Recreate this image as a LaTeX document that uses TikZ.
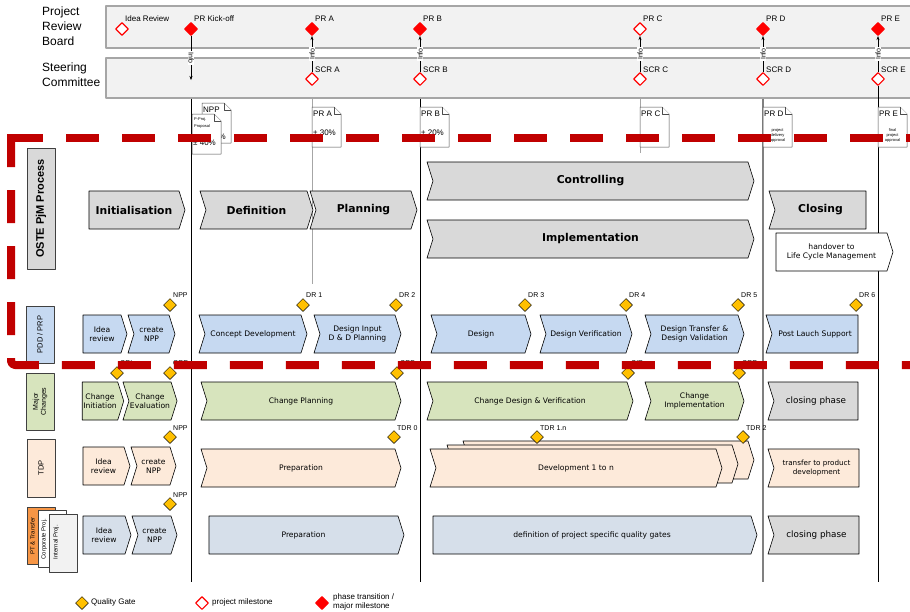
\documentclass[tikz,border=0pt]{standalone}
\usepackage{fontspec}
\setmainfont{Liberation Sans}
\newfontfamily\dvsans{DejaVu Sans}
\usetikzlibrary{shapes.geometric,shapes.symbols,arrows.meta}

\definecolor{boardgray}{HTML}{F2F2F2}
\definecolor{boardline}{HTML}{A6A6A6}
\definecolor{msred}{HTML}{FF0000}
\definecolor{dashred}{HTML}{C00000}
\definecolor{gatey}{HTML}{FFC000}
\definecolor{phasegray}{HTML}{D9D9D9}
\definecolor{pddblue}{HTML}{C6D9F1}
\definecolor{chgreen}{HTML}{D7E4BD}
\definecolor{tdppeach}{HTML}{FDEADA}
\definecolor{ptblue}{HTML}{D6DFEA}
\definecolor{ptorange}{HTML}{F79646}

\tikzset{
  lane/.style={draw=boardline, line width=1.5pt, fill=boardgray, inner sep=0pt},
  ms/.style={diamond, draw=msred, line width=1.1pt, fill=white, minimum size=13pt, inner sep=0pt},
  msfull/.style={ms, fill=msred},
  mslab/.style={anchor=west, inner sep=0pt, font=\fontsize{8}{9}\selectfont},
  gate/.style={diamond, draw=black, line width=0.5pt, fill=gatey, minimum size=13pt, inner sep=0pt},
  gatelab/.style={anchor=west, inner sep=0pt, font=\fontsize{7}{8}\selectfont},
  infolab/.style={fill=white, inner sep=0.8pt, font=\fontsize{7}{7}\selectfont},
  doc/.style={draw=black!70, line width=0.5pt, fill=white},
  doclab/.style={anchor=west, inner sep=0pt, font=\fontsize{8}{9}\selectfont},
  doctiny/.style={inner sep=0pt, align=center, font=\fontsize{4}{5}\selectfont},
  phase/.style={signal, signal to=east, signal from=west, signal pointer angle=145,
    draw=black, line width=0.6pt, minimum height=38pt, inner sep=1pt, align=center,
    font=\dvsans\fontsize{7.6}{9.2}\selectfont},
  flatl/.style={signal from=nowhere},
  flatr/.style={signal to=nowhere},
  bigph/.style={phase, fill=phasegray, font=\dvsans\bfseries\fontsize{10.8}{12}\selectfont},
  endph/.style={phase, flatr, fill=phasegray, font=\dvsans\fontsize{8.8}{10}\selectfont},
  pdd/.style={phase, fill=pddblue},
  chg/.style={phase, fill=chgreen},
  tdp/.style={phase, fill=tdppeach},
  ptr/.style={phase, fill=ptblue},
  rowlab/.style={draw=black!75, line width=0.7pt, rotate=90, inner sep=1pt, align=center,
    minimum height=28pt, font=\fontsize{7.5}{8.5}\selectfont},
  rowtxt/.style={rotate=90, inner sep=0pt, font=\fontsize{6}{7}\selectfont},
  tline/.style={line width=0.7pt},
  gline/.style={draw=black!35, line width=0.6pt},
  dline/.style={draw=black!50, line width=1.4pt},
  reddash/.style={draw=dashred, line width=8pt, dash pattern=on 33pt off 23pt, rounded corners=4pt},
}

% page with folded corner, top left at (#1,#2)
\newcommand\pagedoc[2]{
  \draw[doc] (#1,#2) -- ++(22,0) -- ++(7,7) -- ++(0,33) -- ++(-29,0) -- cycle;
  \draw[doc] (#1+22,#2) -- ++(0,7) -- ++(7,0);
}

\begin{document}
\begin{tikzpicture}[x=1pt, y=-1pt, line join=round, >=Stealth]
  \useasboundingbox (0,0) rectangle (910,611);

  % board and committee
  \node[anchor=north west, align=left, inner sep=0pt, font=\fontsize{12}{15}\selectfont] (prbtitle) at (42,7) {Project\\Review\\Board};
  \node[anchor=north west, align=left, inner sep=0pt, font=\fontsize{12}{15}\selectfont] (sctitle) at (42,63) {Steering\\Committee};
  \node[lane, anchor=north west, minimum width=810pt, minimum height=42pt] (prbox) at (105,5) {};
  \node[lane, anchor=north west, minimum width=810pt, minimum height=40pt] (scbox) at (105,57) {};

  \foreach \x/\n/\s/\t in {122/idea/ms/Idea Review, 191/ko/msfull/PR Kick-off, 312/a/msfull/PR A,
      420/b/msfull/PR B, 640/c/ms/PR C, 763/d/msfull/PR D, 878/e/msfull/PR E}{
    \node[\s] (pr\n) at (\x,29) {};
    \node[mslab] (prlab\n) at (\x+3,19) {\t};
  }
  \foreach \x/\n/\t in {312/a/A, 420/b/B, 640/c/C, 763/d/D, 878/e/E}{
    \node[ms] (scr\n) at (\x,79) {};
    \node[mslab] (scrlab\n) at (\x+3,70) {SCR \t};
  }

  % info arrows
  \coordinate (infoend) at (191,80);
  \draw[-{Stealth[length=4pt,width=3pt]}] (prko) -- (infoend) node[infolab, rotate=-90, pos=0.5] (infoko) {Info};
  \foreach \n in {a,b,c,d,e}
    \draw[-{Stealth[length=4pt,width=3pt]}] (scr\n) -- (pr\n) node[infolab, rotate=90, midway] (info\n) {Info};

  % phase lines
  \coordinate (bottom) at (0,582);
  \coordinate (aend) at (312,284);
  \coordinate (cend) at (640,153);
  \draw[tline] (prko |- scbox.south) -- (prko |- bottom);
  \draw[gline] (pra |- scbox.south) -- (aend);
  \draw[tline] (prb |- scbox.south) -- (prb |- bottom);
  \draw[gline] (prc |- scbox.south) -- (cend);
  \draw[dline] (prd |- scbox.south) -- (prd |- bottom);
  \draw[tline] (scre) -- (pre |- bottom);

  % review documents
  \pagedoc{202}{103}
  \node[doclab] (nppdoc) at (203,110) {NPP};
  \node[doclab] (nppval) at (203,137) {± 40\%};
  \pagedoc{192}{114}
  \node[doctiny, anchor=west] (pproj) at (194,119) {P-Proj.};
  \node[doctiny, anchor=west] (pprop) at (194,126) {Proposal};
  \node[doclab] (pprojval) at (193,143) {± 40\%};
  \pagedoc{312}{107}
  \node[doclab] (pradoc) at (313,114) {PR A};
  \node[doclab] (praval) at (313,133) {± 30\%};
  \pagedoc{420}{107}
  \node[doclab] (prbdoc) at (421,114) {PR B};
  \node[doclab] (prbval) at (421,133) {± 20\%};
  \pagedoc{640}{107}
  \node[doclab] (prcdoc) at (641,114) {PR C};
  \pagedoc{763}{107}
  \node[doclab] (prddoc) at (764,114) {PR D};
  \node[doctiny] (prdtxt) at (777.5,135) {project\\delivery\\approval};
  \pagedoc{878}{107}
  \node[doclab] (predoc) at (879,114) {PR E};
  \node[doctiny] (pretxt) at (892.5,135) {final\\project\\approval};

  % OSTE PjM phases
  \node[rowlab, fill=phasegray, minimum width=121pt, font=\bfseries\fontsize{11}{12}\selectfont] (oste) at (41,208.5) {OSTE PjM Process};
  \node[bigph, flatl, minimum width=96pt] (init) at (134,210) {Initialisation};
  \node[bigph, minimum width=113pt] (defn) at (256.5,210) {Definition};
  \node[bigph, minimum width=107pt] (plan) at (363.5,210) {Planning};
  \node[bigph, minimum width=327pt] (ctrl) at (590.5,181) {Controlling};
  \node[bigph, minimum width=327pt] (impl) at (590.5,239) {Implementation};
  \node[bigph, flatr, minimum width=97pt] (clos) at (820.5,210) {Closing};
  \node[phase, flatl, fill=white, minimum width=117pt] (hand) at (831.5,252) {handover to\\Life Cycle Management};

  % PDD / PRP
  \node[rowlab, fill=pddblue, minimum width=57pt] (lpdd) at (40,334.5) {PDD / PRP};
  \node[pdd, flatl, minimum width=44pt] (pidea) at (102,334) {Idea\\review};
  \node[pdd, minimum width=47pt] (pnpp) at (151.5,334) {create\\NPP};
  \node[pdd, minimum width=108pt] (pconc) at (253,334) {Concept Development};
  \node[pdd, minimum width=87pt] (pinp) at (357.5,334) {Design Input\\D \& D Planning};
  \node[pdd, minimum width=100pt] (pdes) at (481,334) {Design};
  \node[pdd, minimum width=92pt] (pver) at (586,334) {Design Verification};
  \node[pdd, minimum width=99pt] (ptra) at (694.5,334) {Design Transfer \&\\Design Validation};
  \node[pdd, flatr, minimum width=92pt] (ppost) at (815,334) {Post Lauch Support};

  % major changes
  \node[rowlab, fill=chgreen, minimum width=57pt, font=\fontsize{7}{8}\selectfont] (lchg) at (40,401.5) {Major\\Changes};
  \node[chg, flatl, minimum width=40pt] (cini) at (100,401) {Change\\Initiation};
  \node[chg, minimum width=50pt] (ceva) at (150,401) {Change\\Evaluation};
  \node[chg, minimum width=200pt] (cpla) at (301,401) {Change Planning};
  \node[chg, minimum width=206pt] (cdes) at (530,401) {Change Design \& Verification};
  \node[chg, minimum width=99pt] (cimp) at (694.5,401) {Change\\Implementation};
  \node[endph, minimum width=90pt] (cclo) at (816,401) {closing phase};

  % TDP
  \node[rowlab, fill=tdppeach, minimum width=58pt] (ltdp) at (41,468) {TDP};
  \node[tdp, flatl, minimum width=47pt] (tidea) at (103.5,466) {Idea\\review};
  \node[tdp, minimum width=45pt] (tnpp) at (153.5,466) {create\\NPP};
  \node[tdp, minimum width=200pt] (tprep) at (301,468) {Preparation};
  \node[tdp, minimum width=291pt] (tdevc) at (608.5,460) {};
  \node[tdp, minimum width=291pt] (tdevb) at (592.5,464) {};
  \node[tdp, minimum width=292pt] (tdeva) at (576,468) {Development 1 to n};
  \node[tdp, flatr, minimum width=91pt, font=\dvsans\fontsize{7.2}{8.5}\selectfont] (ttra) at (816.5,468) {transfer to product\\development};

  % PT & transfer, corporate and internal projects
  \node[rowlab, fill=ptorange, minimum width=57pt] (lpt) at (41,535.5) {};
  \node[rowlab, fill=white, minimum width=57pt] (lcorp) at (52.5,538.5) {};
  \node[rowlab, fill=boardgray, minimum width=58pt] (lint) at (63.5,543) {};
  \node[rowtxt] (tpt) at (32.5,536) {PT \& Transfer};
  \node[rowtxt] (tcorp) at (44,539) {Corporate Proj.};
  \node[rowtxt] (tint) at (56,542) {Internal Proj.};
  \node[ptr, flatl, minimum width=48pt] (xidea) at (104,535) {Idea\\review};
  \node[ptr, minimum width=45pt] (xnpp) at (154.5,535) {create\\NPP};
  \node[ptr, flatl, minimum width=195pt] (xprep) at (303.5,535) {Preparation};
  \node[ptr, flatl, minimum width=324pt] (xqual) at (592,535) {definition of project specific quality gates};
  \node[endph, minimum width=91pt] (xclo) at (816.5,535) {closing phase};

  % quality gates
  \foreach \x/\n/\t in {170/npp/NPP, 303/dra/DR 1, 396/drb/DR 2, 525/drc/DR 3, 626/drd/DR 4, 738/dre/DR 5, 856/drf/DR 6}{
    \node[gate] (g\n) at (\x,305) {};
    \node[gatelab] (gl\n) at (\x+3,295.5) {\t};
  }
  \foreach \x/\n/\t in {117/cri/CRI, 170/cre/CRE, 397/crp/CRP, 628/cir/CIR, 739/crr/CRR}{
    \node[gate] (g\n) at (\x,373) {};
    \node[gatelab] (gl\n) at (\x+3,363.5) {\t};
  }
  \foreach \x/\n/\t in {170/tnpp/NPP, 394/tdra/TDR 0, 537/tdrb/TDR 1.n, 743/tdrc/TDR 2}{
    \node[gate] (g\n) at (\x,437) {};
    \node[gatelab] (gl\n) at (\x+3,428) {\t};
  }
  \node[gate] (gxnpp) at (170,504) {};
  \node[gatelab] (glxnpp) at (173,495) {NPP};

  % project border
  \draw[reddash] (10,138) -- (913,138);
  \draw[reddash] (11,134) -- (11,365) -- (913,365);

  % legend
  \node[gate] (lgq) at (82,603) {};
  \node[mslab] (lgqt) at (91,602) {Quality Gate};
  \node[ms] (lgm) at (202,603) {};
  \node[mslab] (lgmt) at (212,602) {project milestone};
  \node[msfull] (lgp) at (322,603) {};
  \node[mslab, align=left, font=\fontsize{8}{9}\selectfont] (lgpt) at (333,602) {phase transition /\\major milestone};
\end{tikzpicture}
\end{document}
